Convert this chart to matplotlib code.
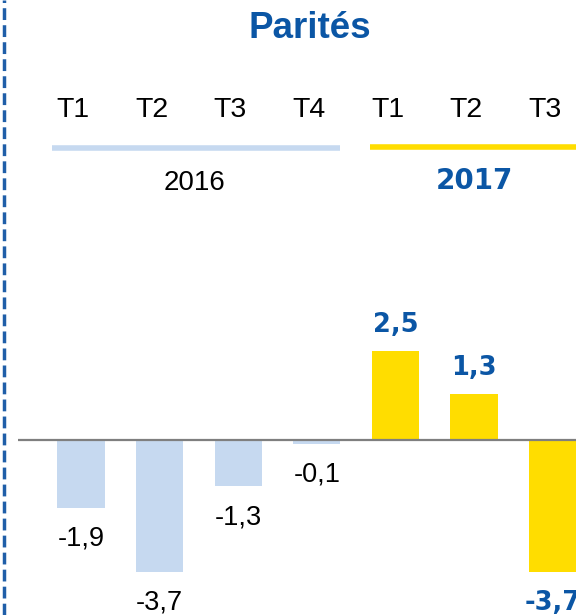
import matplotlib
matplotlib.use("Agg")
import matplotlib.pyplot as plt
import matplotlib.transforms as mtransforms
from matplotlib.lines import Line2D

plt.rcParams['font.family'] = ['Liberation Sans', 'DejaVu Sans']

# data
quarters = ["T1", "T2", "T3", "T4", "T1", "T2", "T3"]
years = ["2016", "2017"]
values = [-1.9, -3.7, -1.3, -0.1, 2.5, 1.3, -3.7]
year_of_bar = [0, 0, 0, 0, 1, 1, 1]

c_2016 = "#c6d9f0"
c_2017 = "#ffdd00"
c_blue = "#0b56a5"

W, H = 576, 615
fig = plt.figure(figsize=(W / 100, H / 100), dpi=100)

# axes covering the whole figure, limits tied to pixel layout
x0_px, dx_px = 81.0, 78.6      # centre of first bar, spacing
y0_px, dy_px = 440.0, 35.6     # baseline row, pixels per unit
ax = fig.add_axes([0, 0, 1, 1])
ax.set_xlim((0 - x0_px) / dx_px, (W - x0_px) / dx_px)
ax.set_ylim((y0_px - H) / dy_px, y0_px / dy_px)
ax.axis("off")

xs = list(range(len(values)))
colors = [c_2016 if y == 0 else c_2017 for y in year_of_bar]
ax.bar(xs, values, width=0.6, color=colors, zorder=2)

# baseline
ax.plot([(18 - x0_px) / dx_px, (W - x0_px) / dx_px], [0, 0],
        color="#7f7f7f", lw=1.6, zorder=3, solid_capstyle="butt")

# value labels
for x, v, yr in zip(xs, values, year_of_bar):
    txt = ("%.1f" % v).replace(".", ",")
    off = 26 if v > 0 else -31
    if yr == 1:
        ax.annotate(txt, (x, v), xytext=(0, off * 0.72), textcoords="offset points",
                    ha="center", va="center", fontsize=18.5, fontweight="bold",
                    color=c_blue, family="DejaVu Sans")
    else:
        ax.annotate(txt, (x, v), xytext=(0, off * 0.72), textcoords="offset points",
                    ha="center", va="center", fontsize=19.5, color="black")

# header : quarters, year lines, years
trans = mtransforms.blended_transform_factory(ax.transData, fig.transFigure)
for x, q in zip(xs, quarters):
    ax.text(x - 0.1, 1 - 110 / H, q, transform=trans, ha="center", va="center",
            fontsize=20.5, color="black")

fig.add_artist(Line2D([-0.37, 3.3], [1 - 148 / H] * 2, transform=trans,
                      color=c_2016, lw=4, solid_capstyle="butt"))
fig.add_artist(Line2D([3.68, 6.4], [1 - 147 / H] * 2, transform=trans,
                      color=c_2017, lw=4, solid_capstyle="butt"))

ax.text(1.45, 1 - 183 / H, years[0], transform=trans, ha="center", va="center",
        fontsize=20, color="black")
ax.text(5.0, 1 - 181 / H, years[1], transform=trans, ha="center", va="center",
        fontsize=20, fontweight="bold", color=c_blue, family="DejaVu Sans")

# title
fig.text(310 / W, 1 - 28 / H, "Parités", ha="center", va="center",
         fontsize=26.5, fontweight="bold", color=c_blue)

# dashed separator on the left
fig.add_artist(Line2D([3.5 / W, 3.5 / W], [0, 1], color="#1f5ea8", lw=2.5,
                      linestyle=(0, (3.4, 1.5))))

fig.savefig("out.png", dpi=100)
